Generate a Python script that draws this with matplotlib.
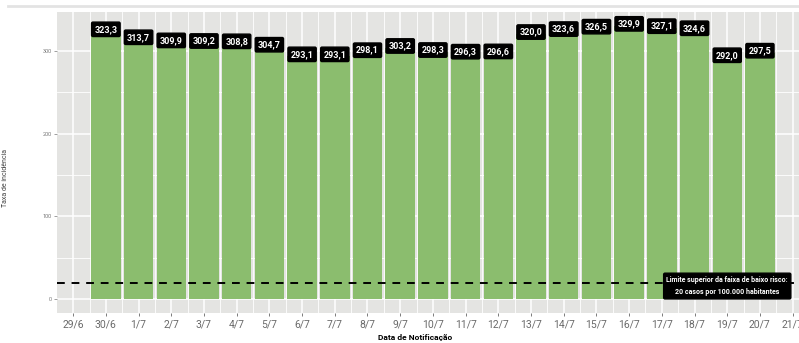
import matplotlib
matplotlib.use("Agg")
import matplotlib.pyplot as plt
from matplotlib.lines import Line2D
from matplotlib.ticker import MultipleLocator

plt.rcParams["font.family"] = ["Roboto", "DejaVu Sans"]

# Data
tick_dates = ["29/6", "30/6"] + [f"{d}/7" for d in range(1, 22)]
bar_dates = tick_dates[1:22]
taxa = [323.3, 313.7, 309.9, 309.2, 308.8, 304.7, 293.1, 293.1, 298.1, 303.2,
        298.3, 296.3, 296.6, 320.0, 323.6, 326.5, 329.9, 327.1, 324.6, 292.0, 297.5]
limite = 20
limite_texto = "Limite superior da faixa de baixo risco:\n20 casos por 100.000 habitantes"
limite_pos = "19/7"

fig = plt.figure(figsize=(7.99, 3.43), dpi=100)
ax = fig.add_axes([0.0713, 0.0875, 0.941, 0.877])
ax.set_facecolor("#e4e4e2")

xpos = {d: i for i, d in enumerate(tick_dates)}
bx = [xpos[d] for d in bar_dates]
ax.bar(bx, taxa, width=0.9, color="#8bbd6e", zorder=2)

# grid
ax.set_xticks(range(len(tick_dates)))
ax.set_xticklabels(tick_dates)
ax.set_xticks([i + 0.5 for i in range(-1, len(tick_dates))], minor=True)
ax.yaxis.set_major_locator(MultipleLocator(100))
ax.yaxis.set_minor_locator(MultipleLocator(50))
ax.grid(which="major", color="white", lw=1.1, zorder=0)
ax.grid(which="minor", color="white", lw=0.6, zorder=0)
ax.set_axisbelow(True)
ax.set_xlim(-0.495, 22.495)
ax.set_ylim(-16.5, 346.5)

for s in ax.spines.values():
    s.set_visible(False)
ax.tick_params(axis="x", which="major", labelsize=7.5, labelcolor="#6a6a6a",
               color="#666666", length=2.5, width=0.6, pad=2)
ax.tick_params(axis="y", which="major", labelsize=4, labelcolor="#777777",
               color="#777777", length=2, width=0.5, pad=2)
ax.tick_params(which="minor", length=0)

ax.axhline(limite, color="black", lw=1.4, ls=(0, (4, 3.5)), zorder=3)

for x, v in zip(bx, taxa):
    ax.annotate(f"{v:.1f}".replace(".", ","), (x, v), xytext=(0, 1.5),
                textcoords="offset points", ha="center", va="center",
                fontsize=6.5, fontweight="bold", color="white", zorder=5,
                bbox=dict(boxstyle="round,pad=0.3,rounding_size=0.15",
                          fc="black", ec="black"))

ax.text(xpos[limite_pos], limite - 4, limite_texto, ha="center", va="center",
        fontsize=5, fontweight="bold", color="white", linespacing=1.7, zorder=6,
        bbox=dict(boxstyle="round,pad=0.4,rounding_size=0.2", fc="black", ec="black"))

ax.set_xlabel("Data de Notificação", fontsize=6, fontweight="bold", va="center")
ax.xaxis.set_label_coords(0.477, -0.08)
ax.set_ylabel("Taxa de incidência", fontsize=5, color="#444444")
ax.yaxis.set_label_coords(-0.064, 0.45)

fig.add_artist(Line2D([0.01, 1.0], [0.982, 0.982], color="#e3e3e3", lw=2))

fig.savefig("out.png", dpi=100)
